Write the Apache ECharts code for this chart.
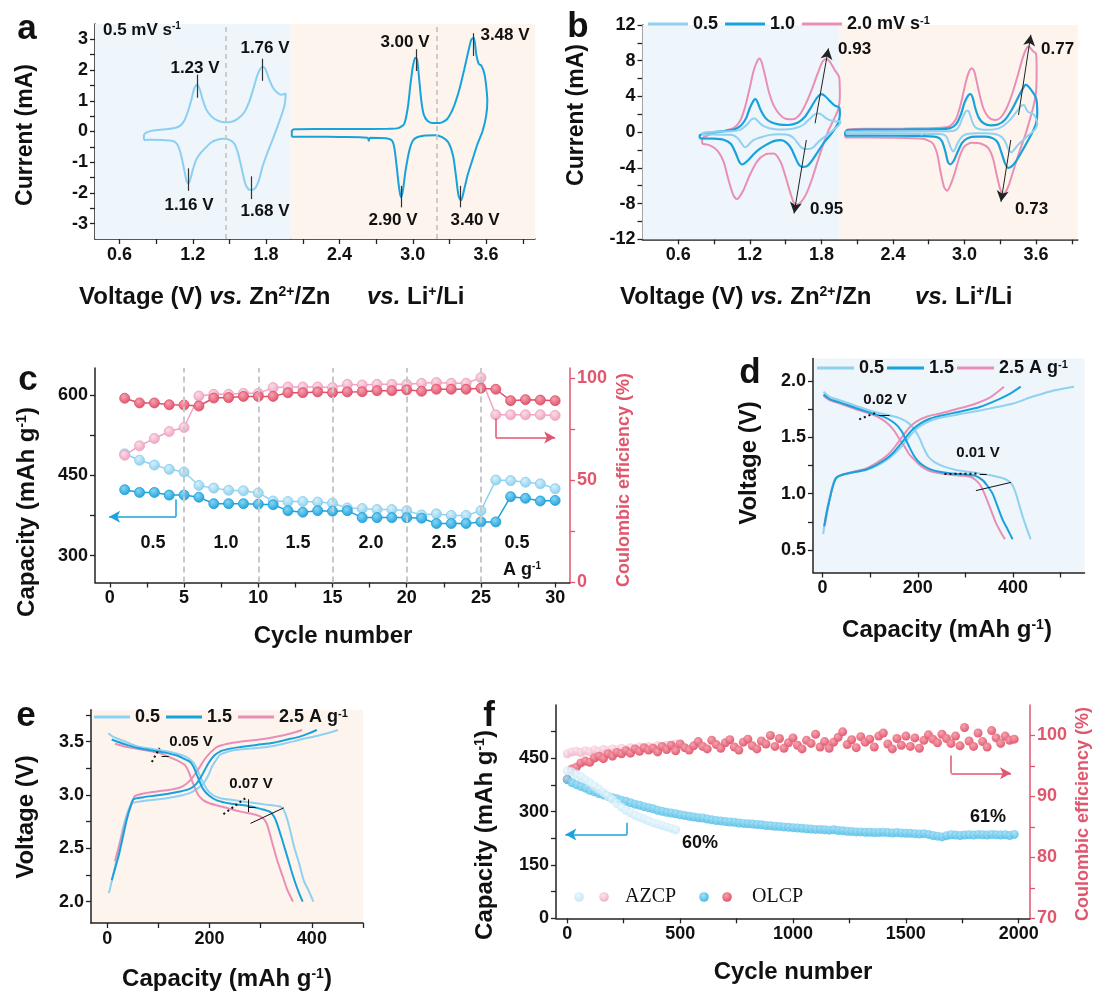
<!DOCTYPE html>
<html><head><meta charset="utf-8">
<script src="https://cdn.jsdelivr.net/npm/echarts@6/dist/echarts.min.js"></script>
<style>html,body{margin:0;padding:0;background:#fff}#c{width:1095px;height:994px}</style>
</head><body><div id="c"></div><script>
// ---------------- DATA ----------------
// Panel a / b : cyclic voltammetry (x: V, y: mA)
const CV05_ZN = [[0.80,-0.28],[0.80,-0.12],[0.82,-0.04],[0.86,0.02],[0.92,0.05],[1.00,0.08],[1.06,0.12],[1.10,0.20],[1.13,0.35],[1.16,0.65],[1.19,1.05],[1.21,1.38],[1.235,1.52],[1.255,1.40],[1.28,1.05],[1.31,0.72],[1.35,0.50],[1.40,0.36],[1.46,0.30],[1.52,0.32],[1.57,0.42],[1.62,0.62],[1.66,0.95],[1.70,1.45],[1.73,1.85],[1.76,2.08],[1.78,2.10],[1.80,1.98],[1.83,1.65],[1.86,1.40],[1.89,1.27],[1.92,1.20],[1.95,1.22],[1.96,1.25],[1.955,0.95],[1.94,0.70],[1.91,0.35],[1.88,0.02],[1.85,-0.30],[1.81,-0.70],[1.77,-1.15],[1.74,-1.60],[1.71,-1.85],[1.68,-1.90],[1.655,-1.88],[1.63,-1.70],[1.60,-1.20],[1.57,-0.70],[1.54,-0.40],[1.50,-0.27],[1.45,-0.24],[1.40,-0.27],[1.35,-0.36],[1.30,-0.55],[1.26,-0.72],[1.23,-0.90],[1.20,-1.25],[1.18,-1.55],[1.165,-1.70],[1.15,-1.62],[1.13,-1.25],[1.10,-0.70],[1.07,-0.40],[1.03,-0.30],[0.95,-0.28],[0.85,-0.27],[0.80,-0.28]];
const CV05_LI = [[2.01,-0.17],[2.01,0.02],[2.03,0.07],[2.2,0.08],[2.5,0.08],[2.8,0.09],[2.88,0.11],[2.93,0.25],[2.96,0.8],[2.98,1.5],[3.00,2.1],[3.02,2.4],[3.035,2.35],[3.05,1.8],[3.07,1.0],[3.09,0.55],[3.12,0.35],[3.16,0.28],[3.22,0.28],[3.28,0.40],[3.33,0.75],[3.38,1.35],[3.42,2.0],[3.46,2.7],[3.48,3.0],[3.50,3.05],[3.52,2.5],[3.54,2.2],[3.56,2.15],[3.585,1.9],[3.60,1.5],[3.61,1.0],[3.60,0.5],[3.57,0.0],[3.53,-0.4],[3.49,-0.9],[3.45,-1.4],[3.42,-1.9],[3.395,-2.25],[3.375,-2.1],[3.355,-1.5],[3.33,-0.8],[3.29,-0.35],[3.24,-0.18],[3.18,-0.12],[3.10,-0.13],[3.04,-0.18],[3.00,-0.3],[2.97,-0.65],[2.94,-1.3],[2.92,-1.9],[2.905,-2.15],[2.89,-1.9],[2.87,-1.2],[2.85,-0.55],[2.83,-0.3],[2.78,-0.22],[2.65,-0.2],[2.64,-0.3],[2.63,-0.2],[2.4,-0.18],[2.2,-0.17],[2.01,-0.17]];
const CV10_ZN = [[0.78,-0.70],[0.78,-0.35],[0.82,-0.15],[0.90,0.0],[1.00,0.15],[1.08,0.35],[1.13,0.8],[1.17,1.6],[1.20,2.7],[1.23,3.5],[1.245,3.7],[1.26,3.5],[1.29,2.5],[1.33,1.6],[1.38,1.1],[1.45,0.85],[1.52,0.80],[1.60,1.05],[1.66,1.70],[1.71,2.70],[1.75,3.60],[1.78,4.10],[1.80,4.25],[1.83,4.05],[1.87,3.50],[1.91,3.00],[1.95,2.75],[1.955,2.0],[1.94,1.0],[1.91,0.3],[1.87,-0.4],[1.82,-1.2],[1.77,-2.2],[1.72,-3.2],[1.68,-3.8],[1.64,-3.9],[1.61,-3.6],[1.58,-2.8],[1.55,-1.9],[1.51,-1.2],[1.46,-0.9],[1.40,-1.0],[1.34,-1.4],[1.28,-1.9],[1.23,-2.5],[1.19,-3.1],[1.15,-3.55],[1.13,-3.6],[1.11,-3.3],[1.08,-2.3],[1.04,-1.3],[0.98,-0.85],[0.90,-0.72],[0.78,-0.70]];
const CV10_LI = [[2.00,-0.40],[2.00,-0.05],[2.02,0.22],[2.2,0.28],[2.5,0.30],[2.8,0.34],[2.88,0.45],[2.93,0.9],[2.97,2.0],[3.00,3.3],[3.03,4.1],[3.05,4.25],[3.07,3.8],[3.09,2.7],[3.12,1.6],[3.16,1.0],[3.22,0.75],[3.28,0.85],[3.34,1.4],[3.40,2.6],[3.45,3.9],[3.49,4.9],[3.51,5.3],[3.53,5.2],[3.56,4.7],[3.59,4.1],[3.605,3.5],[3.61,2.0],[3.60,1.0],[3.57,0.0],[3.53,-1.0],[3.48,-2.2],[3.43,-3.3],[3.39,-3.9],[3.365,-4.0],[3.34,-3.5],[3.31,-2.3],[3.28,-1.2],[3.24,-0.7],[3.18,-0.5],[3.10,-0.5],[3.03,-0.65],[2.98,-1.2],[2.94,-2.3],[2.91,-3.2],[2.88,-3.6],[2.86,-3.3],[2.84,-2.2],[2.81,-1.0],[2.77,-0.55],[2.6,-0.42],[2.2,-0.40],[2.00,-0.40]];
const CV20_ZN = [[0.80,-1.30],[0.80,-0.75],[0.84,-0.40],[0.92,-0.05],[1.00,0.20],[1.07,0.50],[1.12,1.3],[1.16,2.8],[1.20,5.0],[1.23,6.8],[1.26,7.9],[1.28,8.25],[1.30,7.8],[1.33,6.2],[1.36,4.5],[1.40,3.0],[1.45,2.0],[1.50,1.5],[1.56,1.45],[1.62,2.0],[1.67,3.2],[1.72,4.8],[1.77,6.6],[1.81,7.9],[1.84,8.2],[1.87,7.9],[1.91,7.0],[1.95,6.1],[1.955,4.0],[1.94,2.5],[1.90,1.3],[1.86,0.2],[1.82,-1.2],[1.77,-3.2],[1.72,-5.3],[1.67,-7.0],[1.63,-7.8],[1.60,-8.1],[1.57,-7.9],[1.54,-6.8],[1.50,-5.0],[1.46,-3.4],[1.40,-2.4],[1.33,-2.5],[1.26,-3.3],[1.20,-4.8],[1.15,-6.4],[1.11,-7.3],[1.09,-7.5],[1.06,-7.0],[1.02,-5.3],[0.98,-3.3],[0.93,-2.1],[0.87,-1.5],[0.80,-1.30]];
const CV20_LI = [[2.00,-0.60],[2.00,0.0],[2.02,0.30],[2.2,0.38],[2.5,0.40],[2.8,0.48],[2.88,0.7],[2.93,1.5],[2.97,3.2],[3.00,5.0],[3.03,6.5],[3.06,7.15],[3.08,6.9],[3.10,5.8],[3.13,4.0],[3.16,2.6],[3.20,1.7],[3.25,1.35],[3.30,1.6],[3.35,2.6],[3.40,4.3],[3.45,6.5],[3.49,8.4],[3.52,9.4],[3.54,9.6],[3.56,9.3],[3.58,9.0],[3.60,8.8],[3.605,7.0],[3.60,4.5],[3.58,3.0],[3.55,1.5],[3.51,-0.3],[3.46,-2.2],[3.41,-4.3],[3.37,-6.0],[3.34,-6.8],[3.32,-6.9],[3.30,-6.4],[3.27,-4.8],[3.24,-3.0],[3.20,-1.8],[3.14,-1.3],[3.06,-1.2],[3.00,-1.6],[2.96,-2.7],[2.92,-4.5],[2.88,-6.0],[2.855,-6.55],[2.83,-6.2],[2.80,-4.5],[2.77,-2.4],[2.73,-1.2],[2.65,-0.75],[2.4,-0.62],[2.00,-0.60]];

// Panel c : rate capability
const C_CYCLES = [1,2,3,4,5,6,7,8,9,10,11,12,13,14,15,16,17,18,19,20,21,22,23,24,25,26,27,28,29,30];
const C_CAP_LIGHT = [490,478,469,461,456,431,426,422,421,417,402,401,401,400,398,389,388,386,386,384,376,378,375,375,384,441,440,437,434,425];
const C_CAP_BLUE = [423,418,418,413,413,409,397,397,397,396,395,384,381,384,383,384,371,371,371,371,370,360,360,360,363,363,410,407,402,403];
const C_CE_RED = [90.2,87.9,87.9,87.0,86.9,86.4,90.3,90.5,91.1,91.1,91.1,92.9,92.9,93.3,92.9,93.3,93.4,93.9,93.9,94.3,93.6,94.6,94.6,94.6,95.1,94.6,89.0,89.5,89.3,89.0];
const C_CE_PINK = [62.3,66.9,70.5,73.9,75.9,91.3,92.1,92.1,92.6,92.6,95.4,95.7,95.7,95.7,95.4,97.0,96.7,97.0,97.0,97.0,97.5,97.9,97.5,97.5,100.3,82.1,82.1,82.1,82.1,81.8];
const C_RATE_LABELS = ['0.5','1.0','1.5','2.0','2.5','0.5'];

// Panel d : GCD in Zn cell (capacity mAh/g, voltage V)
const D_05_DIS = [[2,1.905],[15,1.86],[36,1.83],[70,1.78],[106,1.73],[135,1.70],[155,1.68],[172,1.65],[185,1.61],[196,1.55],[205,1.48],[213,1.40],[222,1.33],[235,1.28],[255,1.24],[280,1.21],[305,1.195],[329,1.18],[350,1.165],[371,1.145],[388,1.12],[398,1.08],[406,1.0],[413,0.9],[420,0.80],[428,0.70],[437,0.595]];
const D_15_DIS = [[2,1.88],[15,1.84],[36,1.81],[70,1.76],[106,1.71],[130,1.68],[145,1.645],[158,1.60],[168,1.54],[176,1.47],[184,1.40],[193,1.33],[205,1.27],[224,1.22],[245,1.195],[270,1.18],[300,1.17],[320,1.16],[336,1.12],[346,1.07],[357,1.0],[368,0.88],[378,0.77],[389,0.68],[399,0.595]];
const D_25_DIS = [[2,1.87],[15,1.83],[36,1.80],[70,1.75],[106,1.70],[125,1.66],[140,1.61],[152,1.55],[162,1.48],[172,1.42],[182,1.35],[193,1.30],[205,1.25],[220,1.21],[240,1.185],[265,1.17],[290,1.16],[310,1.15],[322,1.12],[332,1.07],[343,0.97],[354,0.85],[364,0.74],[374,0.66],[383,0.595]];
const D_05_CHG = [[1.4,0.64],[6,0.78],[12,0.91],[19,1.04],[26,1.13],[35,1.16],[60,1.185],[92,1.21],[115,1.25],[135,1.30],[155,1.37],[170,1.44],[185,1.52],[200,1.585],[215,1.625],[235,1.66],[260,1.685],[300,1.715],[350,1.755],[400,1.80],[440,1.86],[480,1.91],[510,1.935],[528,1.95]];
const D_15_CHG = [[3.5,0.71],[9,0.84],[15,0.95],[22,1.07],[29,1.14],[40,1.165],[65,1.19],[92,1.215],[115,1.26],[134,1.31],[150,1.37],[162,1.43],[175,1.50],[188,1.565],[204,1.62],[225,1.665],[250,1.695],[290,1.73],[330,1.77],[371,1.84],[395,1.89],[416,1.95]];
const D_25_CHG = [[5,0.72],[10,0.84],[15,0.95],[22,1.07],[29,1.14],[40,1.165],[65,1.195],[92,1.225],[112,1.27],[130,1.32],[145,1.38],[158,1.45],[170,1.52],[183,1.59],[197,1.64],[220,1.685],[245,1.71],[280,1.75],[315,1.79],[350,1.85],[381,1.95]];

// Panel e : GCD in Li cell
const E_05_DIS = [[2,3.58],[10,3.55],[25,3.52],[45,3.48],[64,3.45],[90,3.43],[116,3.41],[135,3.39],[149,3.37],[160,3.34],[169,3.30],[176,3.24],[182,3.17],[188,3.11],[195,3.05],[206,3.00],[221,2.97],[250,2.95],[280,2.93],[310,2.91],[339,2.89],[345,2.86],[350,2.80],[357,2.68],[365,2.52],[375,2.36],[384,2.20],[394,2.10],[403,2.0]];
const E_15_DIS = [[8.5,3.52],[20,3.50],[38,3.47],[60,3.44],[84,3.42],[110,3.40],[136,3.37],[150,3.34],[162,3.31],[169,3.26],[175,3.19],[181,3.12],[188,3.05],[200,2.99],[214,2.95],[240,2.92],[273,2.90],[300,2.87],[319,2.84],[327,2.79],[332,2.73],[342,2.58],[352,2.42],[360,2.29],[368,2.17],[375,2.08],[382,2.0]];
const E_25_DIS = [[15,3.48],[30,3.46],[51,3.44],[75,3.42],[97,3.40],[115,3.37],[129,3.34],[142,3.31],[152,3.28],[159,3.22],[165,3.14],[171,3.07],[178,3.00],[188,2.95],[201,2.92],[225,2.89],[247,2.86],[270,2.835],[293,2.81],[305,2.78],[312,2.73],[322,2.56],[332,2.39],[342,2.25],[352,2.11],[358,2.05],[363,2.0]];
const E_05_CHG = [[3,2.08],[9,2.20],[15,2.33],[23,2.52],[31,2.70],[39,2.83],[48,2.92],[64,2.94],[90,2.955],[116,2.97],[140,2.99],[162,3.02],[176,3.06],[188,3.11],[197,3.18],[205,3.27],[213,3.33],[221,3.38],[235,3.405],[247,3.42],[280,3.435],[312,3.45],[345,3.48],[378,3.52],[415,3.56],[451,3.61]];
const E_15_CHG = [[8.5,2.20],[15,2.31],[21.6,2.42],[30,2.60],[38,2.77],[45,2.89],[51,2.96],[71,2.98],[95,2.995],[116,3.01],[140,3.03],[162,3.06],[173,3.10],[182,3.16],[190,3.23],[198,3.30],[209,3.37],[221,3.41],[240,3.435],[260,3.45],[292,3.47],[325,3.49],[352,3.52],[378,3.55],[395,3.58],[410,3.61]];
const E_25_CHG = [[15,2.38],[21,2.49],[28,2.61],[35,2.73],[41,2.83],[48,2.92],[54,2.99],[77,3.02],[100,3.035],[123,3.05],[142,3.07],[156,3.11],[166,3.16],[175,3.22],[183,3.28],[191,3.34],[202,3.40],[214,3.45],[235,3.48],[260,3.50],[290,3.515],[312,3.53],[345,3.56],[381,3.61]];

// Panel f : long cycling
const F_CYC = [0,20,40,60,80,100,120,140,160,180,200,220,240,260,280,300,320,340,360,380,400,420,440,460,480,500,520,540,560,580,600,620,640,660,680,700,720,740,760,780,800,820,840,860,880,900,920,940,960,980,1000,1020,1040,1060,1080,1100,1120,1140,1160,1180,1200,1220,1240,1260,1280,1300,1320,1340,1360,1380,1400,1420,1440,1460,1480,1500,1520,1540,1560,1580,1600,1620,1640,1660,1680,1700,1720,1740,1760,1780,1800,1820,1840,1860,1880,1900,1920,1940,1960,1980];
const F_OLCP_CAP = [390,382,376,371,366,360,356,351,347,343,339,336,332,329,325,321,318,314,311,308,304,301,298,296,294,291,289,287,285,283,282,279,277,275,274,272,271,270,268,267,266,265,264,263,261,260,259,258,257,256,255,254,253,252,251,250,250,249,248,249,247,246,245,244,243,243,242,242,241,241,242,241,240,241,240,239,239,238,237,238,236,233,231,229,232,235,234,233,234,235,234,236,235,234,236,235,234,235,233,236];
const F_OLCP_CE = [92.8,94.5,94.8,95.5,95.8,95.6,96.3,96.6,96.2,97.0,96.6,97.2,97.0,97.5,97.1,97.8,97.4,98.0,97.6,97.9,97.3,98.2,97.7,98.4,97.5,98.6,98.0,97.6,98.3,99.0,98.2,97.8,99.2,98.5,97.9,98.8,99.3,98.1,97.6,98.9,99.4,98.3,97.8,99.1,98.6,100.0,98.2,99.5,97.9,98.8,99.6,98.4,97.8,99.2,98.7,100.2,98.1,99.0,97.9,98.9,99.7,100.6,98.5,99.3,98.0,99.8,98.9,99.4,98.1,99.9,100.4,98.6,97.8,99.5,98.4,99.9,98.2,99.6,97.9,99.2,100.1,99.4,98.8,100.2,99.5,98.7,99.9,98.3,101.3,99.1,98.2,100.4,99.0,98.1,100.8,99.6,98.7,99.9,99.2,99.4];
const F_AZ_CYC = [0,20,40,60,80,100,120,140,160,180,200,220,240,260,280,300,320,340,360,380,400,420,440,460,480];
const F_AZCP_CAP = [415,412,406,399,390,381,372,363,354,344,334,323,313,304,297,290,284,279,274,269,265,261,257,253,249];
const F_AZCP_CE = [97.0,97.3,97.4,97.2,97.5,97.3,97.6,97.4,97.7,97.5,97.8,97.6,97.9,97.7,98.0,97.8,98.1,97.9,98.2,98.0,98.3,98.1,98.4,98.2,98.6];

// Tick labels / tick positions
const A_X_LAB = [0.6,1.2,1.8,2.4,3.0,3.6];
const AB_X_TICK = [0.6,0.9,1.2,1.5,1.8,2.1,2.4,2.7,3.0,3.3,3.6,3.9];
const A_Y_LAB = [-3,-2,-1,0,1,2,3];
const A_Y_TICK = [-3,-2.5,-2,-1.5,-1,-0.5,0,0.5,1,1.5,2,2.5,3];
const B_Y_LAB = [-12,-8,-4,0,4,8,12];
const B_Y_TICK = [-12,-10,-8,-6,-4,-2,0,2,4,6,8,10,12];
const C_X_LAB = [0,5,10,15,20,25,30];
const C_X_TICK = [0,2.5,5,7.5,10,12.5,15,17.5,20,22.5,25,27.5,30];
const C_YL_LAB = [300,450,600];
const C_YL_TICK = [300,375,450,525,600];
const C_YR_LAB = [0,50,100];
const C_YR_TICK = [0,25,50,75,100];
const DE_X_LAB = [0,200,400];
const DE_X_TICK = [0,100,200,300,400,500];
const D_Y_LAB = [0.5,1.0,1.5,2.0];
const D_Y_TICK = [0.5,0.75,1.0,1.25,1.5,1.75,2.0];
const E_Y_LAB = [2.0,2.5,3.0,3.5];
const E_Y_TICK = [2.0,2.25,2.5,2.75,3.0,3.25,3.5,3.75];
const F_X_LAB = [0,500,1000,1500,2000];
const F_X_TICK = [0,250,500,750,1000,1250,1500,1750,2000];
const F_YL_LAB = [0,150,300,450];
const F_YL_TICK = [0,75,150,225,300,375,450,525];
const F_YR_LAB = [70,80,90,100];
const F_YR_TICK = [70,75,80,85,90,95,100];

// ---------------- STYLE ----------------
const FONT = "'Liberation Sans', Arial, Helvetica, sans-serif";
const SERIF = "'Liberation Serif', 'Times New Roman', serif";
const LB = '#8fd1f0', BL = '#18a2dc', PK = '#e98fb6', RD = '#df4f69', AX = '#222', RAX = '#e0566d';
const BGB = '#eef5fb', BGO = '#fdf4ee';

const f1 = v => v.toFixed(1), f0 = v => String(Math.round(v));
function axis(grid, min, max, labels, ticks, fmt, opt) {
  opt = opt || {};
  const col = opt.color || AX;
  const o = {
    type: 'value', gridIndex: grid, min: min, max: max,
    axisLine: {show: true, onZero: false, lineStyle: {color: col, width: 1.5}},
    axisTick: {show: true, inside: false, length: 5, customValues: ticks, lineStyle: {color: col, width: 1.3}},
    axisLabel: {show: true, customValues: labels, formatter: fmt, fontFamily: FONT, fontWeight: 'bold',
      fontSize: 18, color: opt.labelColor || '#111', margin: 7},
    splitLine: {show: false}, minorTick: {show: false}
  };
  if (opt.position) o.position = opt.position;
  return o;
}
function ball(c1, c2) {
  return {type: 'radial', x: 0.4, y: 0.35, r: 0.7, colorStops: [{offset: 0, color: c1}, {offset: 1, color: c2}]};
}
const pairs = (xs, ys) => xs.map((x, i) => [x, ys[i]]);
function seg(p, q, arrow) { return [{coord: p, symbol: 'none'}, {coord: q, symbol: arrow ? 'arrow' : 'none'}]; }
function mlSeries(xi, yi, items, style, extra) {
  const st = Object.assign({type: 'solid'}, style);
  const s = {type: 'line', data: [], xAxisIndex: xi, yAxisIndex: yi, silent: true, z: 5,
    markLine: {silent: true, animation: false, symbol: ['none', 'none'], symbolSize: [9, 11], label: {show: false},
      emphasis: {disabled: true}, lineStyle: st, data: items}};
  return Object.assign(s, extra || {});
}
function curve(name, data, xi, yi, color, width, z) {
  return {type: 'line', name: name, data: data, xAxisIndex: xi, yAxisIndex: yi, showSymbol: false, symbol: 'none',
    smooth: 0.25, lineStyle: {color: color, width: width || 2}, itemStyle: {color: color}, z: z || 3, silent: true};
}

// graphic text helper
function gt(x, y, str, fs, opt) {
  opt = opt || {};
  const col = opt.color || '#111';
  const fam = opt.family || FONT;
  const fw = opt.weight || 'bold';
  return {type: 'text', x: x, y: y, rotation: opt.rot || 0, silent: true, z: 100,
    style: {text: str, textAlign: opt.align || 'center', textVerticalAlign: opt.valign || 'middle',
      rich: {
        n: {fontSize: fs, fontWeight: fw, fontFamily: fam, fill: col, verticalAlign: 'bottom'},
        i: {fontSize: fs, fontWeight: fw, fontStyle: 'italic', fontFamily: fam, fill: col, verticalAlign: 'bottom'},
        s: {fontSize: Math.round(fs * 0.58), fontWeight: fw, fontFamily: fam, fill: col, verticalAlign: 'top'}
      }}};
}
const N = t => '{n|' + t + '}';
const R90 = Math.PI / 2;

// ---------------- GRAPHIC (titles, annotations) ----------------
const graphic = [
  // panel letters
  gt(27, 29, N('a'), 35), gt(578, 27, N('b'), 35), gt(28, 380, N('c'), 35),
  gt(750, 373, N('d'), 35), gt(26, 716, N('e'), 35), gt(489, 716, N('f'), 35),
  // panel a
  gt(26, 135, N('Current (mA)'), 23, {rot: R90}),
  gt(79, 297, N('Voltage (V) ') + '{i|vs.}' + N(' Zn') + '{s|2+}' + N('/Zn'), 24, {align: 'left'}),
  gt(367, 297, '{i|vs.}' + N(' Li') + '{s|+}' + N('/Li'), 24, {align: 'left'}),
  gt(103, 30, N('0.5 mV s') + '{s|-1}', 17, {align: 'left'}),
  gt(195, 68, N('1.23 V'), 17), gt(265, 48, N('1.76 V'), 17), gt(189, 205, N('1.16 V'), 17), gt(265, 211, N('1.68 V'), 17),
  gt(405, 42, N('3.00 V'), 17), gt(505, 35, N('3.48 V'), 17), gt(393, 220, N('2.90 V'), 17), gt(475, 220, N('3.40 V'), 17),
  // panel b
  gt(577, 115, N('Current (mA)'), 23, {rot: R90}),
  gt(620, 297, N('Voltage (V) ') + '{i|vs.}' + N(' Zn') + '{s|2+}' + N('/Zn'), 24, {align: 'left'}),
  gt(915, 297, '{i|vs.}' + N(' Li') + '{s|+}' + N('/Li'), 24, {align: 'left'}),
  gt(838, 49, N('0.93'), 17, {align: 'left'}), gt(810, 209, N('0.95'), 17, {align: 'left'}),
  gt(1041, 49, N('0.77'), 17, {align: 'left'}), gt(1015, 209, N('0.73'), 17, {align: 'left'}),
  // panel c
  gt(27, 512, N('Capacity (mAh g') + '{s|-1}' + N(')'), 24, {rot: R90}),
  gt(624, 480, N('Coulombic efficiency (%)'), 18, {rot: R90, color: RAX}),
  gt(333, 636, N('Cycle number'), 24),
  gt(153, 543, N(C_RATE_LABELS[0]), 18), gt(226, 543, N(C_RATE_LABELS[1]), 18), gt(298, 543, N(C_RATE_LABELS[2]), 18),
  gt(371, 543, N(C_RATE_LABELS[3]), 18), gt(444, 543, N(C_RATE_LABELS[4]), 18), gt(517, 543, N(C_RATE_LABELS[5]), 18),
  gt(522, 570, N('A g') + '{s|-1}', 18),
  // panel d
  gt(749, 463, N('Voltage (V)'), 24, {rot: R90}),
  gt(947, 630, N('Capacity (mAh g') + '{s|-1}' + N(')'), 24),
  gt(885, 400, N('0.02 V'), 15), gt(978, 453, N('0.01 V'), 15),
  // panel e
  gt(26, 817, N('Voltage (V)'), 24, {rot: R90}),
  gt(227, 979, N('Capacity (mAh g') + '{s|-1}' + N(')'), 24),
  gt(191, 742, N('0.05 V'), 15), gt(251, 784, N('0.07 V'), 15),
  // panel f
  gt(485, 835, N('Capacity (mAh g') + '{s|-1}' + N(')'), 24, {rot: R90}),
  gt(1083, 814, N('Coulombic efficiency (%)'), 18, {rot: R90, color: RAX}),
  gt(793, 972, N('Cycle number'), 24),
  gt(700, 843, N('60%'), 18), gt(988, 817, N('61%'), 18),
  // legend f
  {type: 'circle', shape: {cx: 579, cy: 897, r: 4.8}, style: {fill: ball('#eef8fd', '#bfe6f7')}, silent: true, z: 100},
  {type: 'circle', shape: {cx: 604, cy: 897, r: 4.8}, style: {fill: ball('#fbe6ee', '#f0adc6')}, silent: true, z: 100},
  gt(625, 897, N('AZCP'), 20, {align: 'left', family: SERIF, weight: 'normal'}),
  {type: 'circle', shape: {cx: 704, cy: 897, r: 4.8}, style: {fill: ball('#a6e0f5', '#3fb7e4')}, silent: true, z: 100},
  {type: 'circle', shape: {cx: 727, cy: 897, r: 4.8}, style: {fill: ball('#f4a0ac', '#e04e66')}, silent: true, z: 100},
  gt(752, 897, N('OLCP'), 20, {align: 'left', family: SERIF, weight: 'normal'})
];

// ---------------- AXES ----------------
const xAxis = [
  axis(0, 0.4, 4.0, A_X_LAB, AB_X_TICK, f1),
  axis(1, 0.3, 3.95, A_X_LAB, AB_X_TICK, f1),
  axis(2, -1, 31, C_X_LAB, C_X_TICK, f0),
  axis(3, -20, 550, DE_X_LAB, DE_X_TICK, f0),
  axis(4, -32, 500, DE_X_LAB, DE_X_TICK, f0),
  axis(5, -50, 2050, F_X_LAB, F_X_TICK, f0)
];
const yAxis = [
  axis(0, -3.5, 3.5, A_Y_LAB, A_Y_TICK, f0),
  axis(1, -12, 12, B_Y_LAB, B_Y_TICK, f0),
  axis(2, 250, 650, C_YL_LAB, C_YL_TICK, f0),
  axis(2, 0, 105, C_YR_LAB, C_YR_TICK, f0, {position: 'right', color: RAX, labelColor: RAX}),
  axis(3, 0.3, 2.2, D_Y_LAB, D_Y_TICK, f1),
  axis(4, 1.8, 3.8, E_Y_LAB, E_Y_TICK, f1),
  axis(5, 0, 600, F_YL_LAB, F_YL_TICK, f0),
  axis(5, 70, 105, F_YR_LAB, F_YR_TICK, f0, {position: 'right', color: RAX, labelColor: RAX})
];

// ---------------- SERIES ----------------
const peakStyle = {color: '#333', width: 1.2};
const series = [
  // panel a background + dashed guides
  {type: 'line', data: [], xAxisIndex: 0, yAxisIndex: 0, silent: true, z: 0,
    markArea: {silent: true, data: [[{xAxis: 0.4, itemStyle: {color: BGB}}, {xAxis: 2.0}], [{xAxis: 2.0, itemStyle: {color: BGO}}, {xAxis: 4.0}]]},
    markLine: {silent: true, symbol: ['none', 'none'], label: {show: false}, lineStyle: {color: '#c8c8c8', type: [5, 4], width: 1.8},
      data: [{xAxis: 1.47}, {xAxis: 3.2}]}},
  curve('a-zn', CV05_ZN, 0, 0, '#8ccff0', 2),
  curve('a-li', CV05_LI, 0, 0, BL, 2),
  mlSeries(0, 0, [
    seg([1.24, 1.10], [1.24, 1.85]), seg([1.771, 1.65], [1.771, 2.37]), seg([1.166, -1.20], [1.166, -1.93]), seg([1.682, -1.46], [1.682, -2.20]),
    seg([3.03, 1.97], [3.03, 2.68]), seg([3.494, 2.46], [3.494, 3.20]), seg([2.905, -1.77], [2.905, -2.47]), seg([3.39, -1.77], [3.39, -2.47])
  ], peakStyle),

  // panel b
  {type: 'line', data: [], xAxisIndex: 1, yAxisIndex: 1, silent: true, z: 0,
    markArea: {silent: true, data: [[{xAxis: 0.3, itemStyle: {color: BGB}}, {xAxis: 1.95}], [{xAxis: 1.95, itemStyle: {color: BGO}}, {xAxis: 3.95}]]}},
  curve('2.0 mV s-1', CV20_ZN, 1, 1, PK, 2, 2),
  curve('2.0 mV s-1', CV20_LI, 1, 1, PK, 2, 2),
  curve('1.0', CV10_ZN, 1, 1, BL, 2.2, 3),
  curve('1.0', CV10_LI, 1, 1, BL, 2.2, 3),
  curve('0.5', CV05_ZN, 1, 1, LB, 2, 4),
  curve('0.5', CV05_LI, 1, 1, LB, 2, 4),
  mlSeries(1, 1, [
    seg([1.747, 0.99], [1.859, 9.38], true), seg([1.674, -0.88], [1.571, -9.1], true),
    seg([3.453, 1.92], [3.556, 10.9], true), seg([3.388, -0.88], [3.306, -7.8], true)
  ], {color: '#222', width: 1}),

  // panel c
  mlSeries(2, 2, [{xAxis: 5}, {xAxis: 10}, {xAxis: 15}, {xAxis: 20}, {xAxis: 25}],
    {color: '#c8c8c8', type: [6, 4], width: 2}, {z: 1}),
  {type: 'line', data: pairs(C_CYCLES, C_CAP_LIGHT), xAxisIndex: 2, yAxisIndex: 2, symbol: 'circle', symbolSize: 10, z: 3,
    lineStyle: {color: '#8fd3f1', width: 1.5}, itemStyle: {color: ball('#d6f0fb', '#86cdee'), borderColor: '#86cdee', borderWidth: 0.8}},
  {type: 'line', data: pairs(C_CYCLES, C_CAP_BLUE), xAxisIndex: 2, yAxisIndex: 2, symbol: 'circle', symbolSize: 10, z: 4,
    lineStyle: {color: '#1aa3dc', width: 1.5}, itemStyle: {color: ball('#86d4f2', '#1aa0da'), borderColor: '#1aa0da', borderWidth: 0.8}},
  {type: 'line', data: pairs(C_CYCLES, C_CE_PINK), xAxisIndex: 2, yAxisIndex: 3, symbol: 'circle', symbolSize: 10, z: 3,
    lineStyle: {color: '#f1a4c2', width: 1.5}, itemStyle: {color: ball('#fbdde8', '#ee9ebf'), borderColor: '#ee9ebf', borderWidth: 0.8}},
  {type: 'line', data: pairs(C_CYCLES, C_CE_RED), xAxisIndex: 2, yAxisIndex: 3, symbol: 'circle', symbolSize: 10, z: 4,
    lineStyle: {color: '#e0516b', width: 1.5}, itemStyle: {color: ball('#f5a3b0', '#df4c66'), borderColor: '#df4c66', borderWidth: 0.8}},
  mlSeries(2, 2, [seg([4.46, 404.8], [4.46, 372.5]), seg([4.46, 372.5], [-0.05, 372.5], true)], {color: '#1aa3dc', width: 1.5}),
  mlSeries(2, 3, [seg([26.0, 80.3], [26.0, 71]), seg([26.0, 71], [30.0, 71], true)], {color: RAX, width: 1.5}),

  // panel d
  curve('0.5', D_05_DIS, 3, 4, LB, 2, 3), curve('0.5', D_05_CHG, 3, 4, LB, 2, 3),
  curve('1.5', D_15_DIS, 3, 4, BL, 2, 4), curve('1.5', D_15_CHG, 3, 4, BL, 2, 4),
  curve('2.5 A g-1', D_25_DIS, 3, 4, PK, 2, 3), curve('2.5 A g-1', D_25_CHG, 3, 4, PK, 2, 3),
  mlSeries(3, 4, [seg([322, 1.027], [395.5, 1.10]), seg([330, 1.17], [345, 1.17]), seg([118, 1.695], [141, 1.695])], {color: '#111', width: 1}),
  mlSeries(3, 4, [seg([256, 1.175], [325, 1.178]), seg([77, 1.66], [113, 1.72])], {color: '#111', width: 2, type: [2, 3]}),

  // panel e
  curve('0.5', E_05_DIS, 4, 5, LB, 2, 3), curve('0.5', E_05_CHG, 4, 5, LB, 2, 3),
  curve('1.5', E_15_DIS, 4, 5, BL, 2, 4), curve('1.5', E_15_CHG, 4, 5, BL, 2, 4),
  curve('2.5 A g-1', E_25_DIS, 4, 5, PK, 2, 3), curve('2.5 A g-1', E_25_CHG, 4, 5, PK, 2, 3),
  mlSeries(4, 5, [seg([280, 2.734], [345, 2.88]), seg([106, 3.36], [120, 3.36]), seg([275, 2.84], [275, 2.96]), seg([275, 2.89], [290, 2.89])], {color: '#111', width: 1}),
  mlSeries(4, 5, [seg([87, 3.31], [102, 3.44]), seg([227, 2.82], [270, 2.97])], {color: '#111', width: 2, type: [2, 3]}),

  // panel f
  {type: 'scatter', data: pairs(F_AZ_CYC, F_AZCP_CE), xAxisIndex: 5, yAxisIndex: 7, symbolSize: 9, z: 2,
    itemStyle: {color: ball('#fbe6ee', '#f0adc6'), opacity: 0.85}},
  {type: 'scatter', data: pairs(F_CYC, F_OLCP_CE), xAxisIndex: 5, yAxisIndex: 7, symbolSize: 9, z: 3,
    itemStyle: {color: ball('#f4a0ac', '#e04e66'), opacity: 0.95}},
  {type: 'scatter', data: pairs(F_CYC, F_OLCP_CAP), xAxisIndex: 5, yAxisIndex: 6, symbolSize: 9, z: 3,
    itemStyle: {color: ball('#a6e0f5', '#3fb7e4')}},
  {type: 'scatter', data: pairs(F_AZ_CYC, F_AZCP_CAP), xAxisIndex: 5, yAxisIndex: 6, symbolSize: 9, z: 4,
    itemStyle: {color: ball('#eef8fd', '#bfe6f7'), opacity: 0.8}},
  mlSeries(5, 6, [seg([265, 269], [265, 236]), seg([265, 236], [-8.5, 236], true)], {color: '#1aa3dc', width: 1.5}),
  mlSeries(5, 7, [seg([1701, 96.7], [1701, 93.8]), seg([1701, 93.8], [1966, 93.8], true)], {color: RAX, width: 1.5})
];

// ---------------- LEGENDS ----------------
function legendFmt(name) {
  if (name === '2.0 mV s-1') return '{t|2.0 mV s}{s|-1}';
  if (name === '2.5 A g-1') return '{t|2.5 A g}{s|-1}';
  return '{t|' + name + '}';
}
const legRich = {t: {fontSize: 18, fontWeight: 'bold', fontFamily: FONT, color: '#111', verticalAlign: 'bottom'},
  s: {fontSize: 11, fontWeight: 'bold', fontFamily: FONT, color: '#111', verticalAlign: 'top'}};
function legend(names, left, top, w, gap) {
  return {data: names, left: left, top: top, orient: 'horizontal', icon: 'rect', itemWidth: w, itemHeight: 3,
    itemGap: gap, padding: 0, selectedMode: false, formatter: legendFmt,
    textStyle: {fontSize: 18, fontWeight: 'bold', fontFamily: FONT, color: '#111', rich: legRich}};
}

const option = {
  animation: false,
  backgroundColor: '#fff',
  grid: [
    {left: 95, top: 24, width: 440, height: 215},
    {left: 642.5, top: 25, width: 435.3, height: 214.3},
    {left: 95, top: 368, width: 475, height: 214.5},
    {left: 813, top: 358.5, width: 271.5, height: 214, show: true, backgroundColor: BGB, borderWidth: 0},
    {left: 91, top: 709.7, width: 272, height: 213.3, show: true, backgroundColor: BGO, borderWidth: 0},
    {left: 556, top: 705, width: 474, height: 213.3}
  ],
  xAxis: xAxis, yAxis: yAxis, series: series,
  legend: [
    legend(['0.5', '1.0', '2.0 mV s-1'], 648, 15, 40, 7),
    legend(['0.5', '1.5', '2.5 A g-1'], 817, 359, 37, 3),
    legend(['0.5', '1.5', '2.5 A g-1'], 94, 708, 36, 6)
  ],
  graphic: graphic
};
option.grid.forEach(g => { g.containLabel = false; g.outerBoundsMode = 'none'; });

const chart = echarts.init(document.getElementById('c'), null, {renderer: 'canvas'});
chart.setOption(option);
</script></body></html>
